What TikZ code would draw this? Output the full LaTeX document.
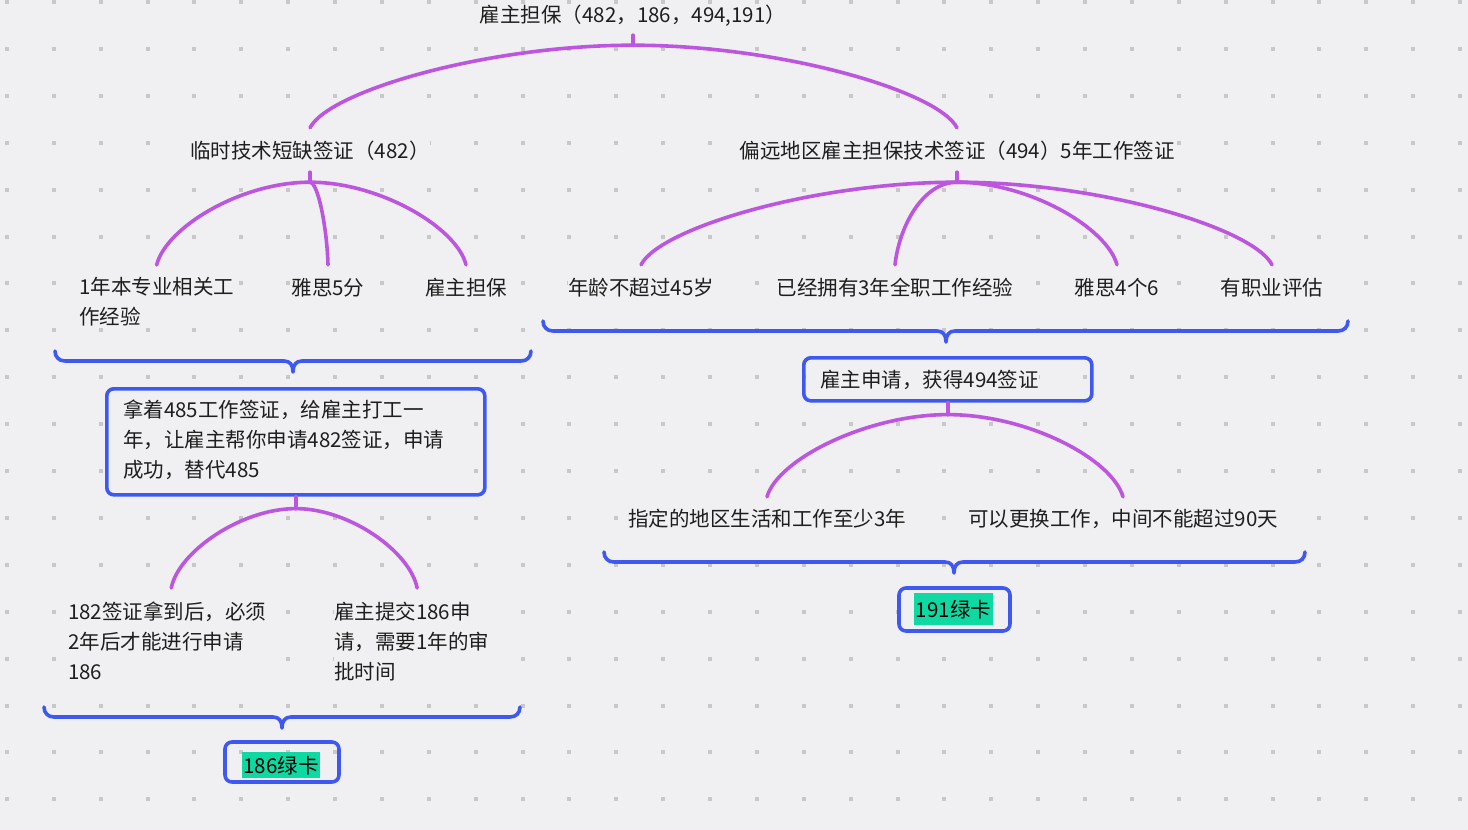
\documentclass[tikz,border=0pt]{standalone}
\usepackage{fontspec}
\setmainfont{Noto Sans CJK SC}
\usetikzlibrary{calc}
\definecolor{bgc}{RGB}{240,240,242}
\definecolor{dotc}{RGB}{200,200,200}
\definecolor{txt}{RGB}{30,30,30}
\definecolor{arcc}{RGB}{188,86,222}
\definecolor{bluec}{RGB}{62,88,240}
\definecolor{greenc}{RGB}{15,217,162}
\begin{document}
\begin{tikzpicture}[x=1pt,y=-1pt,
  lbl/.style={font=\fontsize{20.5}{30}\selectfont, text=txt, fill=bgc, inner sep=0pt, text height=17.5pt, text depth=1.5pt},
  mlbl/.style={font=\fontsize{20.5}{30}\selectfont, text=txt, fill=bgc, inner sep=0pt, align=left, anchor=north west},
  arcline/.style={draw=arcc, line width=3.6pt, line cap=round},
  braceline/.style={draw=bluec, line width=3.6pt, line cap=round, line join=round},
  frame/.style={draw=bluec, line width=3.6pt, rounded corners=7pt, inner sep=0pt},
  hl/.style={font=\fontsize{20.5}{30}\selectfont, text=black, fill=greenc, inner xsep=1.5pt, text height=17.5pt, text depth=1.5pt}
]
% canvas and dot grid
\fill[bgc] (0,0) rectangle (1468,830);
\useasboundingbox (0,0) rectangle (1468,830);
\foreach \i in {0,...,31}
  \foreach \j in {0,...,17}
    \fill[dotc] ({7+46.87*\i-2},{2+46.9*\j-2}) rectangle ++(4,4);

% titles
\node[lbl] (root) at (633,14) {雇主担保（482，186，494,191）};
\node[lbl] (v482) at (310,150) {临时技术短缺签证（482）};
\node[lbl] (v494) at (957,150) {偏远地区雇主担保技术签证（494）5年工作签证};

% requirements
\node[mlbl] (k1) at (79,277) {1年本专业相关工\\作经验};
\node[lbl] (k2) at (328,287) {雅思5分};
\node[lbl] (k3) at (466,287) {雇主担保};
\node[lbl] (r1) at (641,287) {年龄不超过45岁};
\node[lbl] (r2) at (895,287) {已经拥有3年全职工作经验};
\node[lbl] (r3) at (1117,287) {雅思4个6};
\node[lbl] (r4) at (1272,287) {有职业评估};

% application boxes
\node[frame, anchor=north west, minimum width=378pt, minimum height=106pt] (box1) at (105,387) {};
\node[mlbl] (t1) at (123,400) {拿着485工作签证，给雇主打工一\\年，让雇主帮你申请482签证，申请\\成功，替代485};
\node[frame, anchor=north west, minimum width=288pt, minimum height=43pt] (box2) at (802,356) {};
\node[lbl, anchor=west] (t2) at (820,379) {雇主申请，获得494签证};

% conditions
\node[mlbl] (g1) at (68,602) {182签证拿到后，必须\\2年后才能进行申请\\186};
\node[mlbl] (g2) at (334,602) {雇主提交186申\\请，需要1年的审\\批时间};
\node[lbl] (h1) at (767,518) {指定的地区生活和工作至少3年};
\node[lbl] (h2) at (1123,518) {可以更换工作，中间不能超过90天};

% green cards
\node[frame, minimum width=114pt, minimum height=40pt] (f186) at (282,762) {};
\node[hl, inner ysep=3.5pt] (c186) at (281,765) {186绿卡};
\node[frame, minimum width=111pt, minimum height=43pt] (f191) at (954.5,609.5) {};
\node[hl, inner ysep=6.5pt] (c191) at (953.5,609) {191绿卡};

% junctions
\coordinate (jr) at ($(root.south)+(0,21.5)$);
\coordinate (jl) at ($(v482.south)+(0,22.5)$);
\coordinate (jm) at ($(v494.south)+(0,22.5)$);
\coordinate (jb1) at ($(box1.south)+(0,12)$);
\coordinate (jb2) at ($(box2.south)+(0,12)$);

% stubs
\draw[arcline] ([yshift=-11.5pt]root.south) -- (jr);
\draw[arcline] ([yshift=-12.5pt]v482.south) -- (jl);
\draw[arcline] ([yshift=-12.5pt]v494.south) -- (jm);
\draw[arcline] (box1.south) -- (jb1);
\draw[arcline] (box2.south) -- (jb2);

% branches
\draw[arcline] (jr) .. controls +(-145,0) and +(19,-37) .. ([yshift=12.5pt]v482.north);
\draw[arcline] (jr) .. controls +(146,0) and +(-19,-37) .. ([yshift=12.5pt]v494.north);

\draw[arcline] (jl) .. controls +(-70,0) and +(9,-37) .. ([yshift=12pt]k1.north);
\draw[arcline] (jl) .. controls +(8,0) and +(-1,-37) .. ([yshift=12.5pt]k2.north);
\draw[arcline] (jl) .. controls +(70,0) and +(-9,-37) .. ([yshift=12.5pt]k3.north);

\draw[arcline] (jm) .. controls +(-142,0) and +(19,-37) .. ([yshift=12.5pt]r1.north);
\draw[arcline] (jm) .. controls +(-35,0) and +(4,-37) .. ([yshift=12.5pt]r2.north);
\draw[arcline] (jm) .. controls +(72,0) and +(-10,-37) .. ([yshift=12.5pt]r3.north);
\draw[arcline] (jm) .. controls +(142,0) and +(-19,-37) .. ([yshift=12.5pt]r4.north);

\draw[arcline] (jb1) .. controls +(-55,0) and +(7,-36) .. ([xshift=4pt,yshift=14pt]g1.north);
\draw[arcline] (jb1) .. controls +(54,0) and +(-7,-36) .. ([xshift=5.5pt,yshift=14pt]g2.north);

\draw[arcline] (jb2) .. controls +(-80,0) and +(11,-38) .. ([yshift=11.5pt]h1.north);
\draw[arcline] (jb2) .. controls +(80,0) and +(-11,-38) .. ([yshift=11.5pt]h2.north);

% group braces
\foreach \xa/\xb/\xm/\yl in {55/531/293/361, 543/1348/946/331, 44/520/282/717, 604/1305/954/562}
  \draw[braceline] (\xa,\yl-10) .. controls (\xa,\yl-4) and (\xa+4,\yl) .. (\xa+10,\yl)
    -- (\xm-9,\yl) .. controls (\xm-3,\yl) and (\xm,\yl+4) .. (\xm,\yl+11)
    .. controls (\xm,\yl+4) and (\xm+3,\yl) .. (\xm+9,\yl)
    -- (\xb-10,\yl) .. controls (\xb-4,\yl) and (\xb,\yl-4) .. (\xb,\yl-10);
\end{tikzpicture}
\end{document}
